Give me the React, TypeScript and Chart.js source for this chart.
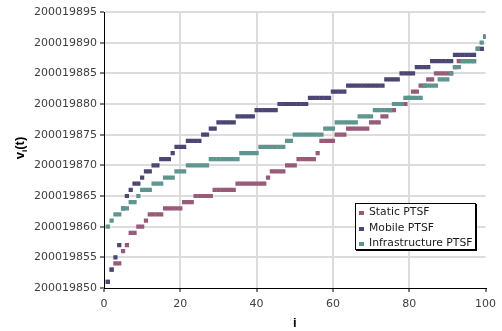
import React, { useEffect, useRef } from 'react';
import { Chart, registerables } from 'chart.js';

Chart.register(...registerables);

const iValues = [
  1, 2, 3, 4, 5, 6, 7, 8, 9, 10,
  11, 12, 13, 14, 15, 16, 17, 18, 19, 20,
  21, 22, 23, 24, 25, 26, 27, 28, 29, 30,
  31, 32, 33, 34, 35, 36, 37, 38, 39, 40,
  41, 42, 43, 44, 45, 46, 47, 48, 49, 50,
  51, 52, 53, 54, 55, 56, 57, 58, 59, 60,
  61, 62, 63, 64, 65, 66, 67, 68, 69, 70,
  71, 72, 73, 74, 75, 76, 77, 78, 79, 80,
  81, 82, 83, 84, 85, 86, 87, 88, 89, 90,
  91, 92, 93, 94, 95, 96, 97, 98, 99, 100,
];

const staticPTSF = [
  200019851, 200019853, 200019854, 200019854, 200019856, 200019857, 200019859, 200019859, 200019860, 200019860,
  200019861, 200019862, 200019862, 200019862, 200019862, 200019863, 200019863, 200019863, 200019863, 200019863,
  200019864, 200019864, 200019864, 200019865, 200019865, 200019865, 200019865, 200019865, 200019866, 200019866,
  200019866, 200019866, 200019866, 200019866, 200019867, 200019867, 200019867, 200019867, 200019867, 200019867,
  200019867, 200019867, 200019868, 200019869, 200019869, 200019869, 200019869, 200019870, 200019870, 200019870,
  200019871, 200019871, 200019871, 200019871, 200019871, 200019872, 200019874, 200019874, 200019874, 200019874,
  200019875, 200019875, 200019875, 200019876, 200019876, 200019876, 200019876, 200019876, 200019876, 200019877,
  200019877, 200019877, 200019878, 200019878, 200019879, 200019879, 200019880, 200019880, 200019880, 200019881,
  200019882, 200019882, 200019883, 200019883, 200019884, 200019884, 200019885, 200019885, 200019885, 200019885,
  200019885, 200019886, 200019887, 200019887, 200019887, 200019887, 200019887, 200019889, 200019889, 200019891,
];

const mobilePTSF = [
  200019851, 200019853, 200019855, 200019857, 200019863, 200019865, 200019866, 200019867, 200019867, 200019868,
  200019869, 200019869, 200019870, 200019870, 200019871, 200019871, 200019871, 200019872, 200019873, 200019873,
  200019873, 200019874, 200019874, 200019874, 200019874, 200019875, 200019875, 200019876, 200019876, 200019877,
  200019877, 200019877, 200019877, 200019877, 200019878, 200019878, 200019878, 200019878, 200019878, 200019879,
  200019879, 200019879, 200019879, 200019879, 200019879, 200019880, 200019880, 200019880, 200019880, 200019880,
  200019880, 200019880, 200019880, 200019881, 200019881, 200019881, 200019881, 200019881, 200019881, 200019882,
  200019882, 200019882, 200019882, 200019883, 200019883, 200019883, 200019883, 200019883, 200019883, 200019883,
  200019883, 200019883, 200019883, 200019884, 200019884, 200019884, 200019884, 200019885, 200019885, 200019885,
  200019885, 200019886, 200019886, 200019886, 200019886, 200019887, 200019887, 200019887, 200019887, 200019887,
  200019887, 200019888, 200019888, 200019888, 200019888, 200019888, 200019888, 200019889, 200019889, 200019891,
];

const infrastructurePTSF = [
  200019860, 200019861, 200019862, 200019862, 200019863, 200019863, 200019864, 200019864, 200019865, 200019866,
  200019866, 200019866, 200019867, 200019867, 200019867, 200019868, 200019868, 200019868, 200019869, 200019869,
  200019869, 200019870, 200019870, 200019870, 200019870, 200019870, 200019870, 200019871, 200019871, 200019871,
  200019871, 200019871, 200019871, 200019871, 200019871, 200019872, 200019872, 200019872, 200019872, 200019872,
  200019873, 200019873, 200019873, 200019873, 200019873, 200019873, 200019873, 200019874, 200019874, 200019875,
  200019875, 200019875, 200019875, 200019875, 200019875, 200019875, 200019875, 200019876, 200019876, 200019876,
  200019877, 200019877, 200019877, 200019877, 200019877, 200019877, 200019878, 200019878, 200019878, 200019878,
  200019879, 200019879, 200019879, 200019879, 200019879, 200019880, 200019880, 200019880, 200019881, 200019881,
  200019881, 200019881, 200019881, 200019883, 200019883, 200019883, 200019883, 200019884, 200019884, 200019884,
  200019885, 200019886, 200019886, 200019887, 200019887, 200019887, 200019887, 200019889, 200019890, 200019891,
];

const seriesNames = ['Static PTSF', 'Mobile PTSF', 'Infrastructure PTSF'];
const seriesColors = ['#975A79', '#4B4775', '#5E968F'];
const seriesValues = [staticPTSF, mobilePTSF, infrastructurePTSF];

const xTickValues = [0, 20, 40, 60, 80, 100];
const yTickValues = [
  200019850, 200019855, 200019860, 200019865, 200019870,
  200019875, 200019880, 200019885, 200019890, 200019895,
];
const xTitle = 'i';
const yTitleMain = 'v';
const yTitleSub = 'i';
const yTitleRest = '(t)';

const TICK_FONT = '"DejaVu Sans", Verdana, sans-serif';
const TITLE_FONT = '"Liberation Sans", Arial, sans-serif';
const GRID_COLOR = '#dcdcdc';

const boxLegendPlugin = {
  id: 'boxLegend',
  afterDraw(chart: any) {
    const ctx = chart.ctx;
    const x0 = 355;
    const y0 = 203;
    const w = 121;
    const h = 47;
    ctx.save();
    ctx.fillStyle = '#000';
    ctx.fillRect(x0 + 1, y0 + 1, w, h);
    ctx.fillStyle = '#fff';
    ctx.fillRect(x0, y0, w, h);
    ctx.strokeStyle = '#000';
    ctx.lineWidth = 1;
    ctx.strokeRect(x0 + 0.5, y0 + 0.5, w - 1, h - 1);
    ctx.font = `10.8px ${TICK_FONT}`;
    ctx.textBaseline = 'middle';
    ctx.textAlign = 'left';
    const rowY = [212, 228, 243];
    seriesNames.forEach((name, k) => {
      ctx.fillStyle = seriesColors[k];
      ctx.fillRect(359, rowY[k] - 1, 5, 4);
      ctx.fillStyle = '#1a1a1a';
      ctx.fillText(name, 369, rowY[k] + 0.5);
    });
    ctx.restore();
  },
};

const yTitlePlugin = {
  id: 'yTitleSub',
  afterDraw(chart: any) {
    const ctx = chart.ctx;
    const area = chart.chartArea;
    ctx.save();
    ctx.fillStyle = '#000';
    const big = `bold 13px ${TITLE_FONT}`;
    const small = `bold 8px ${TITLE_FONT}`;
    ctx.font = big;
    const w1 = ctx.measureText(yTitleMain).width;
    const w3 = ctx.measureText(yTitleRest).width;
    ctx.font = small;
    const w2 = ctx.measureText(yTitleSub).width;
    const total = w1 + w2 + w3;
    ctx.translate(19, (area.top + area.bottom) / 2 - 2);
    ctx.rotate(-Math.PI / 2);
    ctx.textBaseline = 'alphabetic';
    ctx.textAlign = 'left';
    let x = -total / 2;
    ctx.font = big;
    ctx.fillText(yTitleMain, x, 4.5);
    x += w1;
    ctx.font = small;
    ctx.fillText(yTitleSub, x, 7.5);
    x += w2;
    ctx.font = big;
    ctx.fillText(yTitleRest, x, 4.5);
    ctx.restore();
  },
};

export default function App() {
  const canvasRef = useRef<HTMLCanvasElement | null>(null);

  useEffect(() => {
    if (!canvasRef.current) return;
    const datasets = seriesNames.map((name, k) => ({
      label: name,
      data: iValues.map((iv, idx) => ({ x: iv, y: seriesValues[k][idx] })),
      backgroundColor: seriesColors[k],
      borderColor: seriesColors[k],
      borderWidth: 0,
      pointStyle: 'rect',
      pointRadius: 3,
      pointHoverRadius: 3,
      showLine: false,
      order: 3 - k,
    }));

    const chart = new Chart(canvasRef.current, {
      type: 'scatter',
      data: { datasets },
      plugins: [boxLegendPlugin, yTitlePlugin],
      options: {
        animation: false,
        responsive: false,
        devicePixelRatio: 1,
        events: [],
        layout: {
          autoPadding: false,
          padding: { left: 0, right: 9, top: 12, bottom: 0 },
        },
        plugins: {
          legend: { display: false },
          tooltip: { enabled: false },
          title: { display: false },
        },
        scales: {
          x: {
            type: 'linear',
            min: 0,
            max: 100,
            afterBuildTicks: (scale: any) => {
              scale.ticks = xTickValues.map((v) => ({ value: v }));
            },
            afterFit: (scale: any) => {
              scale.height = 43;
            },
            ticks: {
              callback: (v: any) => String(v),
              font: { family: TICK_FONT, size: 11 },
              color: '#404040',
              padding: 6,
              maxRotation: 0,
              autoSkip: false,
            },
            grid: {
              color: (c: any) =>
                c.tick && (c.tick.value === 0 || c.tick.value === 100) ? 'rgba(0,0,0,0)' : GRID_COLOR,
              lineWidth: 2,
              tickColor: '#000',
              tickLength: 4,
              tickWidth: 1,
            },
            border: { display: true, color: '#000', width: 1 },
            title: {
              display: true,
              text: xTitle,
              font: { family: TITLE_FONT, size: 13, weight: 'bold' },
              color: '#000',
              padding: { top: 0, bottom: 0 },
            },
          },
          y: {
            type: 'linear',
            min: 200019850,
            max: 200019895,
            afterBuildTicks: (scale: any) => {
              scale.ticks = yTickValues.map((v) => ({ value: v }));
            },
            afterFit: (scale: any) => {
              scale.width = 104;
            },
            ticks: {
              callback: (v: any) => String(v),
              font: { family: TICK_FONT, size: 11 },
              color: '#404040',
              padding: 3,
              autoSkip: false,
            },
            grid: {
              color: (c: any) =>
                c.tick && c.tick.value === 200019850 ? 'rgba(0,0,0,0)' : GRID_COLOR,
              lineWidth: 2,
              tickColor: '#000',
              tickLength: 4,
              tickWidth: 1,
            },
            border: { display: true, color: '#000', width: 1 },
            title: { display: false },
          },
        },
      } as any,
    });

    return () => {
      chart.destroy();
    };
  }, []);

  return (
    <div
      style={{
        position: 'fixed',
        left: 0,
        top: 0,
        width: 502,
        height: 331,
        background: '#fff',
      }}
    >
      <canvas ref={canvasRef} width={502} height={331} style={{ width: 502, height: 331, display: 'block' }} />
    </div>
  );
}
